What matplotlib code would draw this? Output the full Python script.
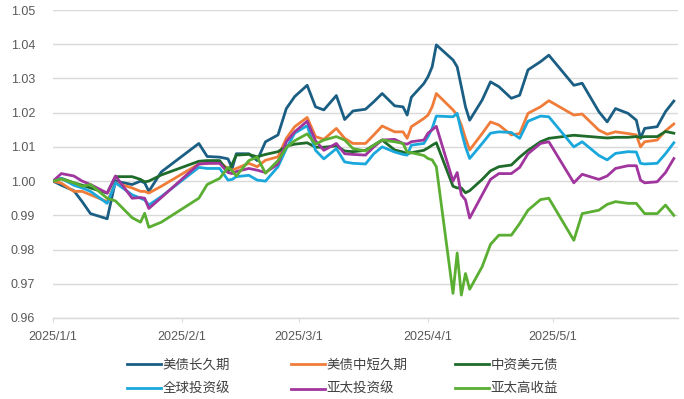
import matplotlib
matplotlib.use("Agg")
import matplotlib.pyplot as plt
import matplotlib.dates as mdates
import numpy as np
import pandas as pd

plt.rcParams['font.family'] = ['Liberation Sans', 'Noto Sans CJK SC', 'DejaVu Sans']

# trading dates (sampled)
dates = pd.to_datetime([
    "2025-01-01", "2025-01-03", "2025-01-06", "2025-01-08", "2025-01-10", "2025-01-14",
    "2025-01-16", "2025-01-20", "2025-01-22", "2025-01-23", "2025-01-24", "2025-01-27",
    "2025-02-05", "2025-02-07", "2025-02-10", "2025-02-12", "2025-02-13", "2025-02-14",
    "2025-02-17", "2025-02-19", "2025-02-21", "2025-02-24", "2025-02-26", "2025-02-28",
    "2025-03-03", "2025-03-05", "2025-03-07", "2025-03-10", "2025-03-12", "2025-03-14",
    "2025-03-17", "2025-03-19", "2025-03-21", "2025-03-24", "2025-03-26", "2025-03-27",
    "2025-03-28", "2025-03-31",
    "2025-04-01", "2025-04-02", "2025-04-03", "2025-04-07", "2025-04-08", "2025-04-09",
    "2025-04-10", "2025-04-11", "2025-04-14", "2025-04-16", "2025-04-18", "2025-04-21",
    "2025-04-23", "2025-04-25", "2025-04-28", "2025-04-30",
    "2025-05-06", "2025-05-08", "2025-05-12", "2025-05-14", "2025-05-16", "2025-05-19",
    "2025-05-21", "2025-05-22", "2025-05-23", "2025-05-26", "2025-05-28", "2025-05-30",
])

us_long = [
    1.000, 0.9988, 0.9972, 0.994, 0.9905, 0.989, 1.000, 0.999, 1.000, 0.9995, 0.997, 1.0027,
    1.011, 1.0072, 1.007, 1.0065, 1.0037, 1.008, 1.008, 1.006, 1.0115, 1.0135, 1.0212, 1.0247,
    1.028, 1.0217, 1.0208, 1.025, 1.018, 1.0205, 1.021, 1.0232, 1.0256, 1.022, 1.0217, 1.0193, 1.0245, 1.0285,
    1.0305, 1.0334, 1.0398, 1.0354, 1.0334, 1.0276, 1.0217, 1.0178, 1.0237, 1.029, 1.0276, 1.0242, 1.0251, 1.0325, 1.0349, 1.0368,
    1.028, 1.0286, 1.0203, 1.0173, 1.0212, 1.0198, 1.0178, 1.0125, 1.0154, 1.0159, 1.0203, 1.0234,
]
us_short = [
    1.000, 0.9994, 0.997, 0.997, 0.996, 0.994, 0.9995, 0.998, 0.997, 0.997, 0.9965, 0.9985,
    1.005, 1.0052, 1.0054, 1.0037, 1.0032, 1.0037, 1.0052, 1.0042, 1.0061, 1.0071, 1.0125, 1.0159,
    1.0186, 1.013, 1.0122, 1.0154, 1.0125, 1.011, 1.011, 1.0135, 1.0161, 1.0144, 1.0144, 1.0125, 1.0159, 1.0183,
    1.0193, 1.0217, 1.0256, 1.0208, 1.0193, 1.0164, 1.0125, 1.0091, 1.0139, 1.0173, 1.0164, 1.0135, 1.0139, 1.0198, 1.0217, 1.0235,
    1.0193, 1.0196, 1.0149, 1.0137, 1.0144, 1.0139, 1.0135, 1.010, 1.0115, 1.012, 1.0147, 1.0167,
]
cn_usd = [
    1.000, 1.0008, 0.9995, 0.9988, 0.998, 0.9965, 1.0013, 1.0013, 1.0005, 0.9998, 1.000, 1.0018,
    1.0058, 1.006, 1.006, 1.0027, 1.005, 1.0076, 1.0078, 1.0071, 1.0078, 1.0086, 1.0102, 1.0108,
    1.0112, 1.0099, 1.0099, 1.0103, 1.0088, 1.0086, 1.009, 1.0105, 1.012, 1.0091, 1.0085, 1.008, 1.0083, 1.009,
    1.0097, 1.0105, 1.0112, 0.9985, 0.998, 0.998, 0.9966, 0.9972, 1.0005, 1.003, 1.0042, 1.0047, 1.007, 1.009, 1.0115, 1.0125,
    1.0134, 1.0132, 1.0128, 1.0126, 1.0128, 1.0128, 1.013, 1.0128, 1.013, 1.013, 1.0145, 1.014,
]
global_ig = [
    1.000, 1.0008, 0.9988, 0.998, 0.997, 0.9935, 0.9995, 0.996, 0.995, 0.9945, 0.993, 0.9955,
    1.004, 1.0037, 1.0037, 1.0003, 1.0005, 1.0013, 1.0017, 1.0003, 1.000, 1.0042, 1.0095, 1.014,
    1.0162, 1.009, 1.0065, 1.0095, 1.0056, 1.0052, 1.005, 1.008, 1.010, 1.0085, 1.0078, 1.0076, 1.0105, 1.011,
    1.013, 1.0154, 1.019, 1.0188, 1.0198, 1.0145, 1.010, 1.0066, 1.011, 1.014, 1.0144, 1.0142, 1.0125, 1.0175, 1.019, 1.0188,
    1.010, 1.0115, 1.0075, 1.0062, 1.0081, 1.0086, 1.0085, 1.0052, 1.005, 1.0052, 1.008, 1.0112,
]
asia_ig = [
    1.000, 1.0022, 1.0015, 1.000, 0.999, 0.9965, 1.0015, 0.995, 0.9952, 0.995, 0.992, 0.9952,
    1.005, 1.0052, 1.0052, 1.0025, 1.0022, 1.0028, 1.0037, 1.0032, 1.0025, 1.005, 1.0115, 1.0144,
    1.0175, 1.0118, 1.009, 1.011, 1.008, 1.0078, 1.0076, 1.010, 1.012, 1.0122, 1.011, 1.0108, 1.0115, 1.012,
    1.014, 1.015, 1.016, 1.000, 1.0025, 0.996, 0.9945, 0.9892, 0.996, 1.0005, 1.0022, 1.0022, 1.004, 1.008, 1.011, 1.0115,
    0.9995, 1.002, 1.0005, 1.0015, 1.0037, 1.0045, 1.0045, 1.0003, 0.9995, 0.9998, 1.0025, 1.0066,
]
asia_hy = [
    1.000, 1.0006, 0.9995, 0.9985, 0.999, 0.995, 0.9942, 0.9893, 0.988, 0.9906, 0.9865, 0.988,
    0.995, 0.999, 1.0008, 1.004, 1.003, 1.0015, 1.006, 1.007, 1.0023, 1.006, 1.0098, 1.0118,
    1.0138, 1.0108, 1.012, 1.013, 1.012, 1.0095, 1.0088, 1.0105, 1.012, 1.0115, 1.011, 1.0085, 1.0083, 1.0075,
    1.0066, 1.0062, 1.0042, 0.9672, 0.979, 0.9667, 0.973, 0.9684, 0.975, 0.9815, 0.9842, 0.9842, 0.9876, 0.9915, 0.9946, 0.995,
    0.9827, 0.9905, 0.9915, 0.9932, 0.994, 0.9935, 0.9935, 0.992, 0.9905, 0.9905, 0.993, 0.990,
]

names = ['美债长久期', '美债中短久期', '中资美元债', '全球投资级', '亚太投资级', '亚太高收益']
series = [us_long, us_short, cn_usd, global_ig, asia_ig, asia_hy]
colors = ['#1B5E83', '#F07C3A', '#1E6B2A', '#1AA7DC', '#A0359E', '#5AAE32']

fig = plt.figure(figsize=(6.84, 3.99), dpi=100)
ax = fig.add_axes([53 / 684, 81 / 399, 625 / 684, 308 / 399])

lines = []
for vals, c, n in zip(series, colors, names):
    ln, = ax.plot(dates, vals, color=c, lw=2.0, label=n)
    lines.append(ln)

ax.set_xlim(pd.Timestamp("2025-01-01"), pd.Timestamp("2025-05-31"))
ax.set_ylim(0.96, 1.05)
ax.set_yticks(np.arange(0.96, 1.0501, 0.01))
ax.yaxis.set_major_formatter(plt.FormatStrFormatter('%.2f'))
ax.xaxis.set_major_locator(mdates.MonthLocator())
ax.xaxis.set_major_formatter(plt.FuncFormatter(lambda v, p: "{d.year}/{d.month}/{d.day}".format(d=mdates.num2date(v))))

ax.grid(axis='y', color='#d9d9d9', lw=1.0)
ax.set_axisbelow(True)
for s in ['top', 'right', 'left']:
    ax.spines[s].set_visible(False)
ax.spines['bottom'].set_color('#d9d9d9')
ax.spines['bottom'].set_linewidth(1.0)
ax.tick_params(axis='y', length=0, pad=13, labelsize=9, labelcolor='#595959')
ax.tick_params(axis='x', length=3, color='#d9d9d9', pad=6, labelsize=9, labelcolor='#595959')

# legend: 3 columns, 2 rows
col_x = [127, 291, 455]
for i in range(3):
    fig.legend([lines[i], lines[i + 3]], [names[i], names[i + 3]],
               loc='upper left', bbox_to_anchor=(col_x[i] / 684, (399 - 359) / 399),
               frameon=False, fontsize=9.7, handlelength=2.5, handletextpad=0.15,
               borderpad=0, borderaxespad=0, labelspacing=0.85, labelcolor='#404040')

plt.savefig("out.png", dpi=100)
